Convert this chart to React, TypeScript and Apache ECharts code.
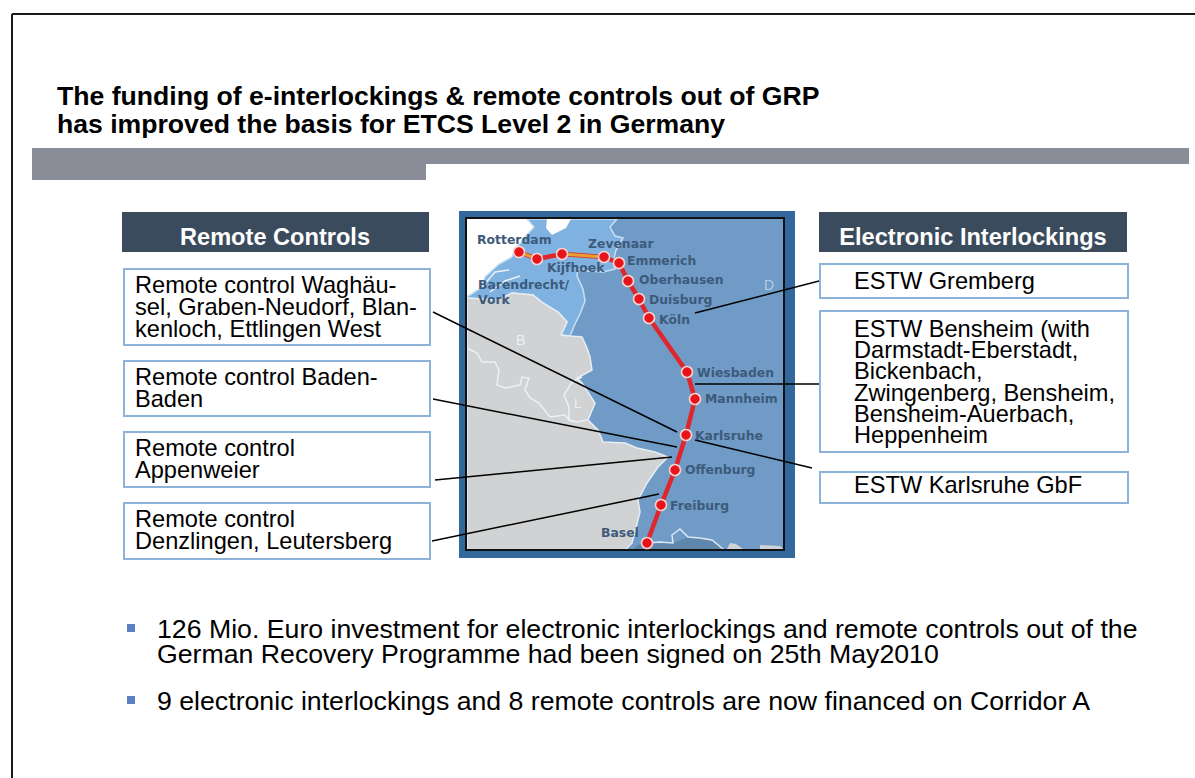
import React, { useEffect, useRef } from "react";
import * as echarts from "echarts";

const stationNames = ["Rotterdam", "Barendrecht/\nVork", "Kijfhoek", "Zevenaar", "Emmerich", "Oberhausen", "Duisburg", "Köln", "Wiesbaden", "Mannheim", "Karlsruhe", "Offenburg", "Freiburg", "Basel"];
const stationX = [519, 537, 562, 604, 619, 628, 639, 649, 687, 695, 686, 675, 661, 647];
const stationY = [252, 259, 254, 257, 263, 281, 299, 318, 372, 399, 435, 470, 505, 543];
const labelDx = [-42, -59, -15, -16, 8, 11, 10, 10, 10, 10, 9, 10, 9, -46];
const labelDy = [-13, 33, 13, -14, -3, -2, 0, 1, 0, -1, 0, -1, 0, -11];
const orangeSegments = [[0, 1], [2, 3]];

const leaderFromX = [433, 433, 435, 432, 695, 695, 695];
const leaderFromY = [312, 399, 480, 541, 313, 384, 440];
const leaderToX = [677, 677, 672, 659, 819, 819, 812];
const leaderToY = [432, 447, 457, 494, 281, 384, 468];

const titleLines = "The funding of e-interlockings & remote controls out of GRP\nhas improved the basis for ETCS Level 2 in Germany";
const leftHeader = "Remote Controls";
const rightHeader = "Electronic Interlockings";
const leftBoxes = ["Remote control Waghäu-\nsel, Graben-Neudorf, Blan-\nkenloch, Ettlingen West", "Remote control Baden-\nBaden", "Remote control\nAppenweier", "Remote control\nDenzlingen, Leutersberg"];
const rightBoxes = ["ESTW Gremberg", "ESTW Bensheim (with\nDarmstadt-Eberstadt,\nBickenbach,\nZwingenberg, Bensheim,\nBensheim-Auerbach,\nHeppenheim", "ESTW Karlsruhe GbF"];
const bullets = ["126 Mio. Euro investment for electronic interlockings and remote controls out of the\nGerman Recovery Programme had been signed on 25th May2010", "9 electronic interlockings and 8 remote controls are now financed on Corridor A"];

const seaShape = [[467, 219], [527, 219], [534, 227], [525, 237], [514, 251], [512, 257], [499, 264], [485, 277], [482, 287], [467, 297]];
const lakeShape = [[547, 219], [571, 219], [566, 228], [552, 235], [546, 228]];
const lowlandShape = [[527, 219], [617, 219], [610, 227], [615, 236], [623, 238], [616, 250], [613, 262], [615, 269], [603, 272], [588, 271], [578, 269], [577, 276], [583, 289], [585, 301], [580, 314], [575, 324], [570, 336], [561, 335], [567, 322], [558, 312], [543, 303], [533, 295], [512, 293], [498, 300], [467, 298], [467, 297], [482, 287], [485, 277], [499, 264], [512, 257], [514, 251], [525, 237], [534, 227]];
const grayShape = [[467, 298], [498, 300], [512, 293], [533, 295], [543, 303], [558, 312], [567, 322], [561, 335], [570, 336], [582, 337], [587, 348], [590, 357], [592, 370], [577, 378], [582, 383], [595, 403], [588, 420], [598, 430], [603, 442], [625, 443], [637, 448], [655, 452], [668, 457], [658, 467], [647, 483], [638, 500], [640, 512], [632, 543], [625, 550], [467, 550]];
const borderWest = [[467, 348], [477, 353], [482, 362], [495, 362], [499, 370], [497, 385], [505, 388], [520, 385], [522, 377], [529, 378], [525, 390], [530, 398], [539, 403], [550, 417], [565, 415], [569, 420], [577, 422], [587, 420]];
const borderLux = [[582, 377], [572, 382], [564, 395], [569, 407], [569, 420]];
const coastA = [[482, 287], [495, 272], [509, 270]];
const coastB = [[490, 292], [505, 281], [520, 276]];
const alpsDark = [[632, 550], [640, 544], [673, 543], [688, 537], [700, 538], [712, 540], [723, 549]];
const alpsLine = [[647, 543], [660, 542], [673, 543], [672, 535], [680, 529], [688, 537], [700, 538], [712, 540], [723, 549]];
const patchA = [[727, 549], [730, 543], [736, 544], [743, 549]];
const patchB = [[760, 549], [760, 545], [780, 546], [783, 549]];

const SANS = "Liberation Sans, Arial, sans-serif";
const txt = (text: string, x: number, y: number, size: number, lh: number, fill: string, weight: string = "normal", align: string = "left") => ({
  type: "text", x, y,
  style: { text, font: `${weight} ${size}px ${SANS}`, fontSize: size, fontWeight: weight, fontFamily: SANS, lineHeight: lh, fill, align, verticalAlign: "top" },
});
const rect = (x: number, y: number, w: number, h: number, fill: string, stroke?: string, lineWidth = 0) => ({
  type: "rect", shape: { x, y, width: w, height: h }, style: { fill, stroke, lineWidth },
});
const poly = (points: number[][], fill: string, stroke?: string, lineWidth = 1.5) => ({
  type: "polygon", shape: { points }, style: { fill, stroke, lineWidth },
});
const pline = (points: number[][], stroke = "#edf1f4", lineWidth = 1.5) => ({
  type: "polyline", shape: { points }, style: { fill: "none", stroke, lineWidth },
});
const BOX = "#8db4d8";
const TITLE = 26.6, BOXT = 23.6, BODY = 26.7;

export default function App() {
  const ref = useRef<HTMLDivElement>(null);
  useEffect(() => {
    const chart = echarts.init(ref.current!, undefined, { renderer: "svg" });
    const elements: any[] = [
      rect(0, 0, 1195, 778, "#ffffff"),
      { type: "line", shape: { x1: 12, y1: 14, x2: 1195, y2: 14 }, style: { stroke: "#1a1a1a", lineWidth: 2 } },
      { type: "line", shape: { x1: 12, y1: 14, x2: 12, y2: 778 }, style: { stroke: "#1a1a1a", lineWidth: 2 } },
      txt(titleLines, 57, 82, TITLE, 28, "#000000", "bold"),
      rect(32, 148, 1157, 16, "#8a8d97"),
      rect(32, 164, 394, 16, "#8a8d97"),
      rect(122, 212, 307, 40, "#3a4b5d"),
      rect(819, 212, 308, 40, "#3a4b5d"),
      txt(leftHeader, 275, 225, 23.6, 24, "#ffffff", "bold", "center"),
      txt(rightHeader, 973, 225, 23.6, 24, "#ffffff", "bold", "center"),
      rect(124, 269, 306, 76, "#ffffff", BOX, 2),
      rect(124, 361, 306, 55, "#ffffff", BOX, 2),
      rect(124, 432, 306, 55, "#ffffff", BOX, 2),
      rect(124, 503, 306, 56, "#ffffff", BOX, 2),
      rect(820, 264, 308, 34, "#ffffff", BOX, 2),
      rect(820, 311, 308, 141, "#ffffff", BOX, 2),
      rect(820, 472, 308, 31, "#ffffff", BOX, 2),
      txt(leftBoxes[0], 135, 274, BOXT, 22, "#000000"),
      txt(leftBoxes[1], 135, 366, BOXT, 22, "#000000"),
      txt(leftBoxes[2], 135, 437, BOXT, 22, "#000000"),
      txt(leftBoxes[3], 135, 508, BOXT, 22, "#000000"),
      txt(rightBoxes[0], 854, 270, BOXT, 22, "#000000"),
      txt(rightBoxes[1], 854, 318, BOXT, 21.3, "#000000"),
      txt(rightBoxes[2], 854, 474, BOXT, 22, "#000000"),
      rect(459, 211, 336, 347, "#33689c"),
      rect(466, 218, 318, 332, "#6f9bc6"),
      poly(seaShape, "#ffffff"),
      poly(lowlandShape, "#7fb2e1", "#c9e0f3", 1.5),
      poly(lakeShape, "#ffffff"),
      poly(grayShape, "#d0d2d3", "#e6edf3", 1.5),
      pline(coastA), pline(coastB), pline(borderWest), pline(borderLux),
      poly(alpsDark, "#5f87ab"), pline(alpsLine, "#dbe8f3"),
      poly(patchA, "#d0d2d3"), poly(patchB, "#d0d2d3"),
      txt("B", 516, 332, 14, 16, "#eef0f1"),
      txt("L", 574, 396, 13, 15, "#eef0f1"),
      txt("D", 764, 277, 14, 16, "#b5cee5"),
      rect(466, 218, 318, 332, "transparent", "#111111", 2),
      rect(127, 624, 8, 8, "#5b7fc0"),
      rect(127, 696, 8, 8, "#5b7fc0"),
      txt(bullets[0], 157, 616, BODY, 25, "#000000"),
      txt(bullets[1], 157, 688, BODY, 25, "#000000"),
    ];
    const route = stationX.map((x, i) => [x, stationY[i]]);
    const orange: any[] = [];
    orangeSegments.forEach(([a, b]) => { orange.push(route[a], route[b], [null, null]); });
    chart.setOption({
      animation: false,
      grid: { left: 0, right: 0, top: 0, bottom: 0 },
      xAxis: { type: "value", min: 0, max: 1195, show: false },
      yAxis: { type: "value", min: 0, max: 778, inverse: true, show: false },
      graphic: { elements },
      series: [
        { type: "line", name: "route", data: route, symbol: "none", silent: true, z: 3, lineStyle: { color: "#e1252d", width: 4.5 } },
        { type: "line", name: "orange", data: orange, symbol: "none", silent: true, z: 4, connectNulls: false, lineStyle: { color: "#e8a030", width: 3 } },
        ...leaderFromX.map((x, i) => ({
          type: "line", name: `leader${i}`, data: [[x, leaderFromY[i]], [leaderToX[i], leaderToY[i]]], symbol: "none", silent: true, z: 5,
          lineStyle: { color: "#000000", width: 1.5 },
        })),
        {
          type: "scatter", name: "stations", symbolSize: 11, z: 6,
          itemStyle: { color: "#e8141c", borderColor: "#f6d3cf", borderWidth: 1.5, opacity: 1 },
          data: route.map((p, i) => ({
            value: p, name: stationNames[i],
            label: {
              show: true, position: "inside", formatter: stationNames[i], align: "left", verticalAlign: "middle",
              offset: [labelDx[i], labelDy[i]], fontFamily: "DejaVu Sans", fontWeight: "bold", fontSize: 12.4, lineHeight: 15, color: "#3d5a7a",
            },
          })),
        },
      ],
    });
    return () => chart.dispose();
  }, []);
  return <div ref={ref} style={{ position: "absolute", left: 0, top: 0, width: 1195, height: 778, overflow: "hidden" }} />;
}
